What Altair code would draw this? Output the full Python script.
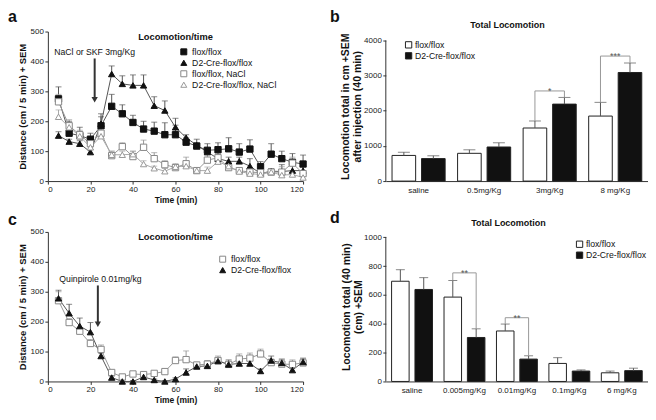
import altair as alt
import pandas as pd

FONT = "Liberation Sans"

# ---------------- data ----------------
time = list(range(5, 121, 5))

series_a = ["flox/flox", "D2-Cre-flox/flox", "flox/flox,  NaCl", "D2-Cre-flox/flox, NaCl"]
a_flox = [275, 160, 152, 140, 185, 250, 225, 196, 174, 167, 155, 155, 130, 117, 103, 105, 108, 97, 107, 48, 90, 75, 63, 57]
a_flox_sem = [40, 40, 28, 20, 40, 40, 30, 24, 26, 30, 40, 32, 15, 23, 22, 23, 37, 28, 31, 17, 35, 25, 29, 30]
a_d2 = [152, 132, 125, 97, 192, 358, 325, 320, 320, 252, 236, 180, 145, 120, 97, 75, 66, 66, 50, 25, 33, 32, 35, 35]
a_d2_sem = [13, 8, 10, 8, 23, 27, 27, 35, 35, 30, 32, 30, 10, 8, 8, 20, 14, 14, 25, 5, 9, 23, 30, 15]
a_flox_nacl = [265, 185, 155, 125, 160, 85, 115, 82, 113, 75, 55, 45, 58, 35, 70, 78, 45, 35, 30, 28, 30, 30, 60, 25]
a_flox_nacl_sem = [25, 20, 15, 15, 18, 15, 13, 18, 24, 20, 13, 13, 22, 10, 18, 12, 13, 10, 12, 7, 12, 18, 20, 10]
a_d2_nacl = [215, 180, 150, 113, 150, 88, 88, 90, 57, 43, 33, 48, 50, 35, 35, 65, 50, 32, 25, 22, 30, 20, 22, 12]
a_d2_nacl_sem = [23, 15, 15, 12, 12, 12, 12, 10, 11, 7, 9, 7, 12, 10, 12, 13, 12, 8, 10, 8, 8, 10, 8, 8]

series_c = ["flox/flox", "D2-Cre-flox/flox"]
c_flox = [270, 197, 168, 127, 107, 30, 15, 25, 23, 27, 33, 70, 73, 55, 58, 70, 57, 75, 78, 92, 63, 58, 57, 62]
c_flox_sem = [30, 13, 10, 13, 15, 5, 5, 5, 5, 5, 5, 12, 29, 7, 12, 15, 8, 17, 17, 16, 12, 14, 15, 13]
c_d2 = [278, 228, 185, 165, 85, 13, 0, 0, 15, 5, 0, 8, 30, 50, 52, 68, 57, 60, 60, 35, 70, 62, 38, 65]
c_d2_sem = [27, 30, 27, 32, 10, 5, 5, 3, 5, 3, 3, 4, 12, 7, 13, 12, 15, 10, 15, 7, 15, 13, 12, 13]

genos = ["flox/flox", "D2-Cre-flox/flox"]
doses_b = ["saline", "0.5mg/Kg", "3mg/Kg", "8 mg/Kg"]
b_flox = [730, 790, 1510, 1850]
b_flox_sem = [90, 100, 200, 390]
b_d2 = [640, 970, 2190, 3090]
b_d2_sem = [80, 120, 190, 270]
b_sig_dose = ["3mg/Kg", "8 mg/Kg"]
b_sig_top = [2565, 3557]
b_sig_text = ["*", "***"]

doses_d = ["saline", "0.005mg/Kg", "0.01mg/Kg", "0.1mg/Kg", "6 mg/Kg"]
d_flox = [695, 585, 350, 125, 60]
d_flox_sem = [80, 115, 48, 40, 12]
d_d2 = [638, 305, 155, 72, 75]
d_d2_sem = [82, 60, 23, 8, 17]
d_sig_dose = ["0.005mg/Kg", "0.01mg/Kg"]
d_sig_top = [753, 442]
d_sig_text = ["**", "**"]

# ---------------- helpers ----------------
LAB = 8
LET = 16
def txt(s, x, y, size, weight="bold", align="left", color="#111"):
    return alt.Chart(pd.DataFrame({"t": [s]})).mark_text(
        fontSize=size, fontWeight=weight, align=align, baseline="alphabetic", color=color
    ).encode(text="t:N", x=alt.value(x), y=alt.value(y))


def time_panel(series, means, sems, fills, strokes, shapes, linecols,
               letter, ann, arrow, legx, legy):
    rows = []
    for name, m, s, lc in zip(series, means, sems, linecols):
        for t, mm, ss in zip(time, m, s):
            rows.append({"time": t, "series": name, "mean": mm, "upper": mm + ss, "lc": lc})
    df = pd.DataFrame(rows)

    def X(f):
        return alt.X(f, type="quantitative", scale=alt.Scale(domain=[0, 120], nice=False),
                     axis=alt.Axis(values=list(range(0, 121, 20)), title="Time (min)",
                                   titleFontSize=8.5, titlePadding=2, labelOverlap=False))

    def Y(f):
        return alt.Y(f, type="quantitative", scale=alt.Scale(domain=[0, 500], nice=False),
                     axis=alt.Axis(values=list(range(0, 501, 100)), labelOverlap=False,
                                   title="Distance  (cm / 5 min) + SEM", titleFontSize=9.5,
                                   titlePadding=3))

    col = alt.Color("lc:N", scale=None)
    leg = alt.Legend(title=None, orient="none", legendX=legx, legendY=legy, labelFontSize=8.7,
                     symbolSize=36, rowPadding=0, padding=0, labelColor="#111",
                     symbolStrokeWidth=1, labelOffset=4, labelFont=FONT)

    base = alt.Chart(df)
    err = base.mark_rule(strokeWidth=1).encode(x=X("time"), y=Y("mean"), y2="upper:Q", color=col)
    cap = base.mark_tick(orient="horizontal", size=6, thickness=1).encode(
        x=X("time"), y=Y("upper"), color=col)
    line = base.mark_line(strokeWidth=1).encode(x=X("time"), y=Y("mean"), color=col,
                                                detail="series:N")
    pts = base.mark_point(size=40, strokeWidth=1, opacity=1).encode(
        x=X("time"), y=Y("mean"),
        fill=alt.Fill("series:N", scale=alt.Scale(domain=series, range=fills), legend=leg),
        stroke=alt.Stroke("series:N", scale=alt.Scale(domain=series, range=strokes), legend=leg),
        shape=alt.Shape("series:N", scale=alt.Scale(domain=series, range=shapes), legend=leg),
    )
    adf = pd.DataFrame({"x": [arrow[0]], "y1": [arrow[1]], "y2": [arrow[2] + 8], "yh": [arrow[2] + 4]})
    arr = alt.Chart(adf).mark_rule(strokeWidth=2, color="#333").encode(
        x=X("x"), y=Y("y1"), y2="y2:Q")
    head = alt.Chart(adf).mark_point(shape="triangle-down", filled=True, size=40, color="#333",
                                     opacity=1).encode(x=X("x"), y=Y("yh"))
    tdf = pd.DataFrame({"x": [ann[0]], "y": [ann[1]], "label": [ann[2]]})
    atext = alt.Chart(tdf).mark_text(align="left", baseline="middle", fontSize=8.7,
                                     color="#111").encode(x=X("x"), y=Y("y"), text="label:N")
    title = txt("Locomotion/time", 128, 8, 9.3, align="center")
    let = txt(letter[0], letter[1], letter[2], LET)
    return alt.layer(err, cap, line, pts, arr, head, atext, title, let).properties(
        width=256, height=150)


def bar_panel(doses, fl, fls, d2, d2s, ydom_top, ymax, ystep, ytitle, ytp, pin, opin, capw,
              sig_dose, sig_top, sig_text, title_xy, letter, legxy):
    rows = []
    for i, dz in enumerate(doses):
        rows.append({"dose": dz, "geno": genos[0], "mean": fl[i], "upper": fl[i] + fls[i]})
        rows.append({"dose": dz, "geno": genos[1], "mean": d2[i], "upper": d2[i] + d2s[i]})
    df = pd.DataFrame(rows)
    up = {(r["dose"], r["geno"]): r["upper"] for r in rows}
    brows, srows = [], []
    for k, (dz, top, s) in enumerate(zip(sig_dose, sig_top, sig_text)):
        brows += [
            {"id": k, "seq": 0, "dose": dz, "geno": genos[0], "y": up[(dz, genos[0])]},
            {"id": k, "seq": 1, "dose": dz, "geno": genos[0], "y": top},
            {"id": k, "seq": 2, "dose": dz, "geno": genos[1], "y": top},
            {"id": k, "seq": 3, "dose": dz, "geno": genos[1], "y": up[(dz, genos[1])]},
        ]
        srows.append({"dose": dz, "y": top, "s": s})
    bdf = pd.DataFrame(brows)
    sdf = pd.DataFrame(srows)

    X = alt.X("dose:N", sort=doses, scale=alt.Scale(domain=doses, paddingInner=pin, paddingOuter=pin / 2),
              axis=alt.Axis(title=None, labelAngle=0, ticks=False, labelPadding=5, labelOverlap=False))
    XO = alt.XOffset("geno:N", sort=genos,
                     scale=alt.Scale(domain=genos, paddingInner=opin, paddingOuter=0))

    def Y(f):
        return alt.Y(f, type="quantitative", scale=alt.Scale(domain=[0, ydom_top], nice=False),
                     axis=alt.Axis(values=list(range(0, ymax + 1, ystep)), domain=False,
                                   format="d", labelOverlap=False,
                                   title=ytitle, titleFontSize=10.5, titlePadding=ytp,
                                   titleLineHeight=12))

    leg = alt.Legend(title=None, orient="none", legendX=legxy[0], legendY=legxy[1], labelFontSize=8.7,
                     symbolType="square", symbolSize=40, symbolStrokeColor="#222",
                     symbolStrokeWidth=1, rowPadding=0, padding=0, labelColor="#111",
                     labelOffset=2, labelFont=FONT)
    base = alt.Chart(df)
    err = base.mark_rule(color="#555", strokeWidth=1).encode(x=X, xOffset=XO, y=Y("mean"), y2="upper:Q")
    cap = base.mark_tick(orient="horizontal", size=capw, thickness=1, color="#555").encode(
        x=X, xOffset=XO, y=Y("upper"))
    bars = base.mark_bar(stroke="#222", strokeWidth=1).encode(
        x=X, xOffset=XO, y=Y("mean"),
        fill=alt.Fill("geno:N", scale=alt.Scale(domain=genos, range=["white", "#111"]), legend=leg))
    brk = alt.Chart(bdf).mark_line(color="#999", strokeWidth=1).encode(
        x=X, xOffset=XO, y=Y("y"), detail="id:N", order="seq:O")
    stars = alt.Chart(sdf).mark_text(fontSize=9, color="#555", baseline="alphabetic", dy=3).encode(
        x=X, y=Y("y"), text="s:N")
    # y-axis line from 0 to the top tick, through the y scale
    axl = alt.Chart(pd.DataFrame({"lo": [0], "hi": [ymax]})).mark_rule(color="#333").encode(
        x=alt.value(0), y=Y("lo"), y2="hi:Q")
    title = txt("Total Locomotion", title_xy[0], title_xy[1], 9, align="center")
    let = txt(letter[0], letter[1], letter[2], LET)
    return alt.layer(bars, err, cap, brk, stars, axl, title, let).properties(width=263, height=150)


pa = time_panel(
    series_a, [a_flox, a_d2, a_flox_nacl, a_d2_nacl],
    [a_flox_sem, a_d2_sem, a_flox_nacl_sem, a_d2_nacl_sem],
    fills=["#111", "#111", "white", "white"],
    strokes=["#111", "#111", "#888", "#999"],
    shapes=["square", "triangle-up", "square", "triangle-up"],
    linecols=["#555", "#555", "#999", "#aaa"],
    letter=("a", -40, -9.5), ann=(3, 431, "NaCl or SKF 3mg/Kg"), arrow=(22, 410, 268),
    legx=132, legy=16)

pc = time_panel(
    series_c, [c_flox, c_d2], [c_flox_sem, c_d2_sem],
    fills=["white", "#111"], strokes=["#888", "#111"], shapes=["square", "triangle-up"],
    linecols=["#999", "#555"],
    letter=("c", -40, -7), ann=(5.4, 341, "Quinpirole 0.01mg/kg"), arrow=(23.5, 321, 187),
    legx=171, legy=23)

pb = bar_panel(doses_b, b_flox, b_flox_sem, b_d2, b_d2_sem, 4255, 4000, 1000,
               ["Locomotion total in cm +SEM", "after injection (40 min)"], 1, 0.19, 0.2, 12,
               b_sig_dose, b_sig_top, b_sig_text, (122, -4), ("b", -56, -9.5), (18.5, 9))

pd_ = bar_panel(doses_d, d_flox, d_flox_sem, d_d2, d_d2_sem, 1037, 1000, 200,
                ["Locomotion total (40 min)", "(cm) +SEM"], 0, 0.22, 0.25, 9,
                d_sig_dose, d_sig_top, d_sig_text, (123, -5.5), ("d", -56, -9), (190, 8))

chart = alt.concat(
    pa, pb, pc, pd_, columns=2, spacing=alt.RowColnumber(row=51, column=76),
    bounds="flush", align="all", padding=0,
).resolve_scale(
    color="independent", fill="independent", stroke="independent", shape="independent",
    xOffset="independent",
).configure(font=FONT).configure_view(stroke=None).configure_axis(
    labelFontSize=LAB, labelColor="#222", tickSize=3, tickColor="#333", domainColor="#333",
    titleFontWeight="bold", titleColor="#111", grid=False, labelPadding=1.5, labelFont=FONT,
    titleFont=FONT,
)

chart.save("out.html", embed_options={"renderer": "svg", "actions": False})
